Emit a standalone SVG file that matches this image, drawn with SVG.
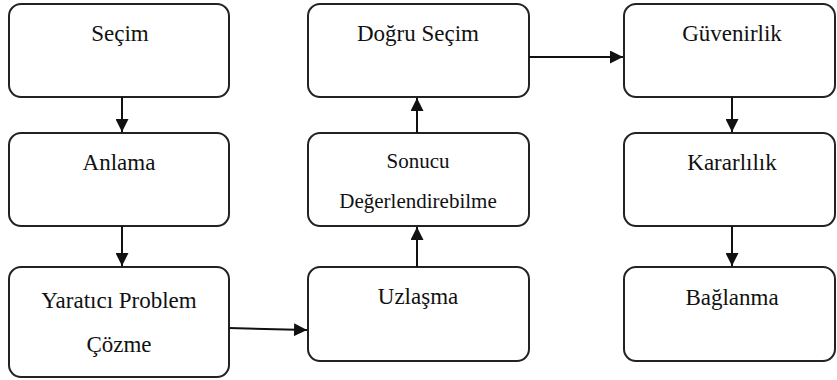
<svg xmlns="http://www.w3.org/2000/svg" width="837" height="380" viewBox="0 0 837 380">
<style>
.box{fill:#fff;stroke:#222;stroke-width:2}
.t{font-size:23px;fill:#111;text-anchor:middle}
.s{font-size:21px}
.c{stroke:#111;stroke-width:2;fill:none}
</style>
<defs>
<marker id="ah" markerWidth="13" markerHeight="13" viewBox="0 0 13 13" refX="13" refY="6.5" orient="auto" markerUnits="userSpaceOnUse">
<path d="M0,0 L13,6.5 L0,13 Z" fill="#111"/>
</marker>
</defs>
<rect width="837" height="380" fill="#fff"/>
<g font-family="Liberation Serif, DejaVu Serif, serif">
<g id="secim"><rect class="box" x="9" y="4" width="220" height="93" rx="12"/><text class="t" x="120" y="41">Seçim</text></g>
<g id="anlama"><rect class="box" x="9" y="133" width="220" height="93" rx="12"/><text class="t" x="119" y="170">Anlama</text></g>
<g id="yaratici"><rect class="box" x="9" y="267" width="220" height="110" rx="12"/><text class="t" x="119" y="308">Yaratıcı Problem</text><text class="t" x="119" y="352">Çözme</text></g>
<g id="dogru"><rect class="box" x="308" y="4" width="221" height="93" rx="12"/><text class="t" x="418" y="41">Doğru Seçim</text></g>
<g id="sonucu"><rect class="box" x="308" y="133" width="221" height="93" rx="12"/><text class="t s" x="418" y="168">Sonucu</text><text class="t s" x="418" y="208">Değerlendirebilme</text></g>
<g id="uzlasma"><rect class="box" x="308" y="267" width="221" height="94" rx="12"/><text class="t" x="418" y="304">Uzlaşma</text></g>
<g id="guvenirlik"><rect class="box" x="624" y="4" width="211" height="93" rx="12"/><text class="t" x="732" y="41">Güvenirlik</text></g>
<g id="kararlilik"><rect class="box" x="624" y="133" width="211" height="93" rx="12"/><text class="t" x="732" y="170">Kararlılık</text></g>
<g id="baglanma"><rect class="box" x="624" y="267" width="211" height="94" rx="12"/><text class="t" x="732" y="305">Bağlanma</text></g>
</g>
<g id="connectors">
<line class="c" x1="122" y1="97" x2="122" y2="132" marker-end="url(#ah)"/>
<line class="c" x1="122" y1="226" x2="122" y2="266" marker-end="url(#ah)"/>
<line class="c" x1="229" y1="328" x2="307" y2="330" marker-end="url(#ah)"/>
<line class="c" x1="417" y1="267" x2="417" y2="227" marker-end="url(#ah)"/>
<line class="c" x1="417" y1="133" x2="417" y2="98" marker-end="url(#ah)"/>
<line class="c" x1="529" y1="57" x2="623" y2="57" marker-end="url(#ah)"/>
<line class="c" x1="732" y1="97" x2="732" y2="132" marker-end="url(#ah)"/>
<line class="c" x1="732" y1="226" x2="732" y2="266" marker-end="url(#ah)"/>
</g>
</svg>
